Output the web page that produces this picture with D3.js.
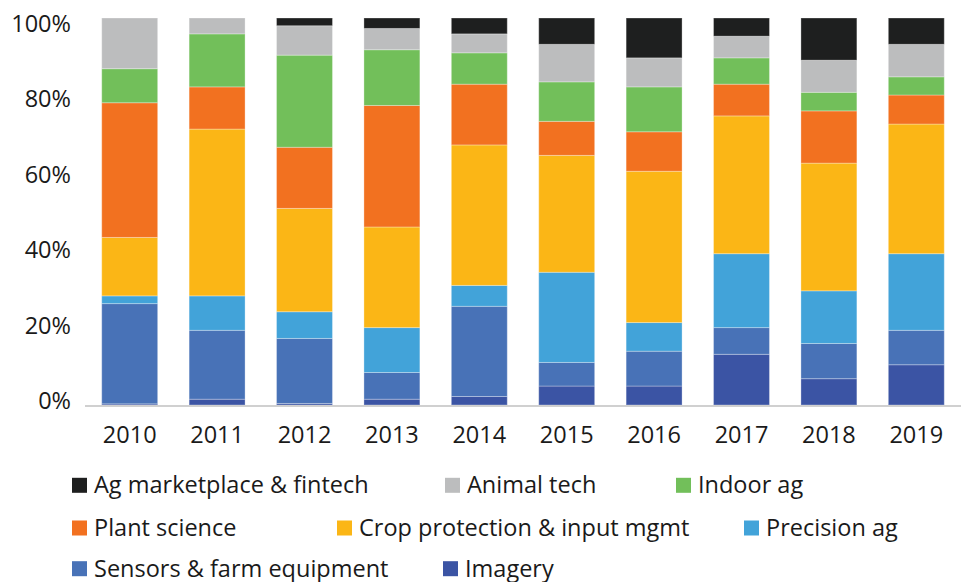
<!DOCTYPE html>
<html>
<head>
<meta charset="utf-8">
<script src="https://cdn.jsdelivr.net/npm/d3@7"></script>
<style>
  html, body { margin: 0; padding: 0; background: #fff; }
  svg { display: block; }
  text { font-family: "Open Sans", sans-serif; fill: #1a1a1a; }
</style>
</head>
<body>
<svg id="chart" width="967" height="582"></svg>
<script>
// ---- data ----
const years = ["2010","2011","2012","2013","2014","2015","2016","2017","2018","2019"];
const seriesNames = ["Imagery","Sensors & farm equipment","Precision ag","Crop protection & input mgmt","Plant science","Indoor ag","Animal tech","Ag marketplace & fintech"];
const imagery   = [0.3, 1.5, 0.4, 1.5, 2.2, 4.9, 4.9, 13.1, 6.8, 10.4];
const sensors   = [25.9, 17.8, 16.8, 6.9, 23.3, 6.1, 9.0, 6.9, 9.1, 8.9];
const precision = [2.0, 8.9, 6.9, 11.6, 5.4, 23.3, 7.4, 19.1, 13.6, 19.8];
const crop      = [15.1, 43.1, 26.7, 26.0, 36.3, 30.2, 39.1, 35.6, 33.0, 33.5];
const plant     = [34.8, 10.9, 15.8, 31.4, 15.7, 8.8, 10.2, 8.2, 13.5, 7.5];
const indoor    = [8.8, 13.7, 23.8, 14.4, 8.1, 10.2, 11.6, 6.8, 4.8, 4.7];
const animal    = [13.1, 4.1, 7.6, 5.5, 4.9, 9.7, 7.5, 5.6, 8.3, 8.4];
const market    = [0, 0, 2.0, 2.7, 4.1, 6.8, 10.3, 4.7, 10.9, 6.8];
const yTicks = [0, 0.2, 0.4, 0.6, 0.8, 1.0];
const legendRows = [
  ["Ag marketplace & fintech", "Animal tech", "Indoor ag"],
  ["Plant science", "Crop protection & input mgmt", "Precision ag"],
  ["Sensors & farm equipment", "Imagery"]
];

// ---- style / layout ----
const colors = {
  "Imagery": "#3b54a4",
  "Sensors & farm equipment": "#4872b7",
  "Precision ag": "#42a3d9",
  "Crop protection & input mgmt": "#fbb616",
  "Plant science": "#f27120",
  "Indoor ag": "#72bf5a",
  "Animal tech": "#bcbdbe",
  "Ag marketplace & fintech": "#1e1f1f"
};
const legendX = [[72, 445, 676], [72, 337, 744], [72, 443]];
const legendBaseline = [493.3, 536, 576.7];
const fontSize = 23.5;

const seriesArrays = [imagery, sensors, precision, crop, plant, indoor, animal, market];
const table = years.map((y, i) => {
  const row = { year: y };
  seriesNames.forEach((s, k) => row[s] = seriesArrays[k][i]);
  return row;
});

const svg = d3.select("#chart");

const x = d3.scaleBand().domain(years).range([86, 960]).paddingInner(0.36).paddingOuter(0.18);
const y = d3.scaleLinear().domain([0, 1]).range([405, 18]);
const yLabel = d3.scaleLinear().domain([0, 1]).range([401, 24]);

const stack = d3.stack().keys(seriesNames).offset(d3.stackOffsetExpand);
const layers = stack(table);

svg.append("g").selectAll("g")
  .data(layers).join("g")
  .attr("fill", d => colors[d.key])
  .selectAll("rect")
  .data(d => d).join("rect")
  .attr("x", d => x(d.data.year))
  .attr("width", x.bandwidth())
  .attr("y", d => y(d[1]))
  .attr("height", d => Math.max(0, y(d[0]) - y(d[1])))
  .attr("stroke", "rgba(255,255,255,0.3)")
  .attr("stroke-width", 1);

// baseline
svg.append("line")
  .attr("x1", 85).attr("x2", 961)
  .attr("y1", y(0) + 1).attr("y2", y(0) + 1)
  .attr("stroke", "#d0d0d0").attr("stroke-width", 2);

// y axis labels
const yAxis = svg.append("g")
  .attr("transform", "translate(71,0)")
  .call(d3.axisLeft(yLabel).tickValues(yTicks).tickFormat(d3.format(".0%")).tickSize(0).tickPadding(0));
yAxis.select(".domain").remove();
yAxis.selectAll("text").attr("font-size", fontSize).attr("font-family", "Open Sans").attr("fill", "#1a1a1a");

// x axis labels
const xAxis = svg.append("g")
  .attr("transform", "translate(0,407)")
  .call(d3.axisBottom(x).tickSize(0).tickPadding(19));
xAxis.select(".domain").remove();
xAxis.selectAll("text").attr("font-size", fontSize).attr("font-family", "Open Sans").attr("fill", "#1a1a1a");

// legend
const lg = svg.append("g");
legendRows.forEach((row, r) => {
  row.forEach((name, c) => {
    const g = lg.append("g").attr("transform", `translate(${legendX[r][c]},${legendBaseline[r]})`);
    g.append("rect").attr("x", 0).attr("y", -15.5).attr("width", 15).attr("height", 15).attr("fill", colors[name]);
    g.append("text").attr("x", 22).attr("y", 0)
      .attr("font-size", fontSize).text(name);
  });
});
</script>
</body>
</html>
